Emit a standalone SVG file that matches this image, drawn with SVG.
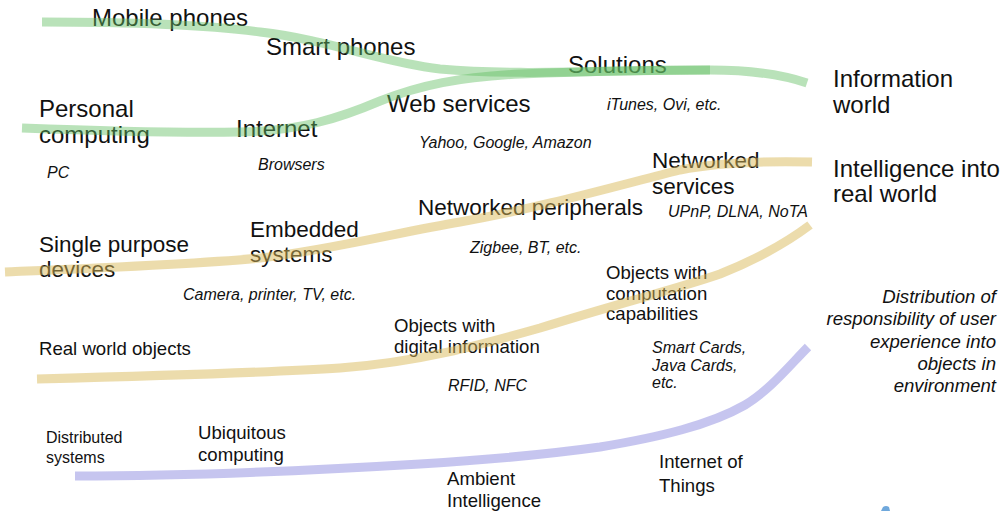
<svg xmlns="http://www.w3.org/2000/svg" width="1005" height="511" viewBox="0 0 1005 511">
<style>
text{font-family:"Liberation Sans",Arial,sans-serif;fill:#111}
.l{font-size:24px}
.k{font-size:22.5px}
.m{font-size:18.6px}
.s{font-size:16px}
.i{font-style:italic}
.r{text-anchor:end}
.g{fill:none;stroke:#64be64;stroke-opacity:.45;stroke-width:9;stroke-linecap:butt}
.y{fill:none;stroke:#d9b95a;stroke-opacity:.5;stroke-width:9}
.p{fill:none;stroke:#8d8ce0;stroke-opacity:.5;stroke-width:9}
</style>
<rect width="1005" height="511" fill="#fff"/>
<g id="mobile"><text class="l" x="92" y="26">Mobile phones</text></g>
<g id="smart"><text class="l" x="266" y="55">Smart phones</text></g>
<g id="personal"><text class="l" x="39" y="117">Personal</text><text class="l" x="39" y="143">computing</text><text class="s i" x="47" y="178">PC</text></g>
<g id="internet"><text class="l" x="236" y="137">Internet</text><text class="s i" x="258" y="170">Browsers</text></g>
<g id="web"><text class="l" x="387" y="112">Web services</text><text class="s i" x="419" y="148">Yahoo, Google, Amazon</text></g>
<g id="solutions"><text class="l" x="568" y="73">Solutions</text><text class="s i" x="607" y="110">iTunes, Ovi, etc.</text></g>
<g id="info"><text class="l" x="833" y="87">Information</text><text class="l" x="833" y="113">world</text></g>
<g id="intel"><text class="l" x="833" y="177">Intelligence into</text><text class="l" x="833" y="202">real world</text></g>
<g id="netserv"><text class="k" x="652" y="168">Networked</text><text class="k" x="652" y="194">services</text><text class="s i" x="668" y="217">UPnP, DLNA, NoTA</text></g>
<g id="netper"><text class="k" x="418" y="215">Networked peripherals</text><text class="s i" x="470" y="253">Zigbee, BT, etc.</text></g>
<g id="embedded"><text class="k" x="250" y="237">Embedded</text><text class="k" x="250" y="262">systems</text><text class="s i" x="183" y="300">Camera, printer, TV, etc.</text></g>
<g id="single"><text class="k" x="39" y="252">Single purpose</text><text class="k" x="39" y="277">devices</text></g>
<g id="realobj"><text class="m" x="39" y="355">Real world objects</text></g>
<g id="digital"><text class="m" x="394" y="332">Objects with</text><text class="m" x="394" y="353">digital information</text><text class="s i" x="448" y="391">RFID, NFC</text></g>
<g id="comput"><text class="m" x="606" y="279">Objects with</text><text class="m" x="606" y="300">computation</text><text class="m" x="606" y="320">capabilities</text>
<text class="s i" x="652" y="353">Smart Cards,</text><text class="s i" x="652" y="371">Java Cards,</text><text class="s i" x="652" y="388">etc.</text></g>
<g id="distresp"><text class="m i r" x="996" y="303">Distribution of</text><text class="m i r" x="996" y="325">responsibility of user</text><text class="m i r" x="996" y="348">experience into</text><text class="m i r" x="996" y="370">objects in</text><text class="m i r" x="996" y="392">environment</text></g>
<g id="distsys"><text class="s" x="46" y="443">Distributed</text><text class="s" x="46" y="463">systems</text></g>
<g id="ubi"><text class="m" x="198" y="439">Ubiquitous</text><text class="m" x="198" y="461">computing</text></g>
<g id="ambient"><text class="m" x="447" y="485">Ambient</text><text class="m" x="447" y="507">Intelligence</text></g>
<g id="iot"><text class="m" x="659" y="468">Internet of</text><text class="m" x="659" y="492">Things</text></g>
<g id="connectors">
<path class="g" d="M42,22 C120,22 200,24 260,32 C330,40 380,62 440,69 C520,76 600,70 710,70 C750,70 780,74 807,83"/>
<path class="g" d="M22,128 C100,131 180,133 240,132 C300,131 340,118 380,101 C420,85 460,77 520,74 C600,71 660,70 710,70"/>
<path class="y" d="M5,272 C100,268 200,264 260,258 C330,250 400,232 460,222 C540,208 620,185 680,170 C720,162 770,161 812,162"/>
<path class="y" d="M37,379 C150,376 280,372 340,368 C420,362 480,345 540,328 C620,303 680,288 720,274 C760,258 790,240 810,225"/>
<path class="p" d="M75,476 C200,476 320,470 420,464 C500,459 550,454 600,447 C660,437 710,425 745,405 C770,390 790,365 808,347"/>
</g>
<path d="M881,511 L883,507 Q886,505 889,507 L890,511 Z" fill="#6fa8dc"/>
</svg>
